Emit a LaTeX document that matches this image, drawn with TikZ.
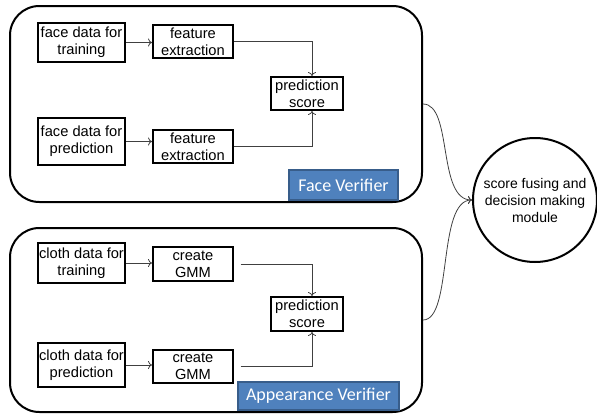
\documentclass[tikz,border=0pt]{standalone}
\usepackage{fontspec}
\usetikzlibrary{arrows.meta}
\setmainfont{Liberation Sans}
\newfontfamily\labfont{Carlito}
\definecolor{tagfill}{RGB}{79,129,189}
\definecolor{tagline}{RGB}{56,93,138}
\begin{document}
\begin{tikzpicture}[x=0.75pt,y=-0.75pt,
  box/.style={draw, line width=1.5pt, align=center, inner sep=1pt,
    font=\fontsize{11}{12.5}\selectfont},
  outer/.style={draw, line width=1.5pt, rounded corners=22pt},
  tag/.style={fill=tagfill, draw=tagline,
    line width=0.8pt, text=white, font=\labfont\fontsize{13.5}{15}\selectfont, inner sep=2pt},
  conn/.style={draw=black!75, line width=0.6pt, -{To[length=3pt,width=6pt]}}
]
\useasboundingbox (0,0) rectangle (597,414);
% outer boxes
\node[outer, minimum width=309pt, minimum height=147pt] (top) at (216,104) {};
\node[outer, minimum width=309pt, minimum height=138pt] (bot) at (216,320) {};
% face verifier
\node[box, minimum width=65.25pt, minimum height=29.25pt] (ft) at (81.5,42.5) {face data for\\training};
\node[box, minimum width=60pt, minimum height=24.75pt] (fe1) at (193,41.5) {feature\\extraction};
\node[box, minimum width=54pt, minimum height=24.75pt] (ps1) at (307,93.5) {prediction\\score};
\node[box, minimum width=65.25pt, minimum height=35.25pt] (fp) at (81.5,141.5) {face data for\\prediction};
\node[box, minimum width=60pt, minimum height=24.75pt] (fe2) at (193,146.5) {feature\\extraction};
\node[tag, minimum width=81.75pt, minimum height=22.5pt] (fv) at (343.5,185) {Face Verifier};
% appearance verifier
\node[box, minimum width=65.25pt, minimum height=30pt] (ct) at (81.5,263) {cloth data for\\training};
\node[box, minimum width=60pt, minimum height=25.5pt] (g1) at (193,264) {create\\GMM};
\node[box, minimum width=54pt, minimum height=25.5pt] (ps2) at (307,314) {prediction\\score};
\node[box, minimum width=65.25pt, minimum height=33pt] (cp) at (81.5,365) {cloth data for\\prediction};
\node[box, minimum width=60pt, minimum height=24.75pt] (g2) at (193,366.5) {create\\GMM};
\node[tag, minimum width=120.75pt, minimum height=21pt] (av) at (318.5,396) {Appearance Verifier};
% circle
\node[draw, circle, line width=1.5pt, minimum size=93pt, align=center, inner sep=0pt,
  font=\fontsize{10.5}{12.75}\selectfont] (sf) at (535,200) {score fusing and\\decision making\\module};
% connectors
\coordinate (p1) at ([xshift=3.75pt]ps1.north);
\coordinate (p2) at ([xshift=3.75pt]ps1.south);
\coordinate (q1) at ([xshift=3.75pt]ps2.north);
\coordinate (q2) at ([xshift=3.75pt]ps2.south);
\draw[conn] (ft.east) -- (ft.east -| fe1.west);
\draw[conn] (fp.east) -- (fp.east -| fe2.west);
\draw[conn] (fe1.east) -| (p1);
\draw[conn] (fe2.east) -| (p2);
\draw[conn] (ct.east) -- (ct.east -| g1.west);
\draw[conn] (cp.east) -- (cp.east -| g2.west);
\draw[conn, shorten <=5pt] (g1.east) -| (q1);
\draw[conn, shorten <=5pt] (g2.east) -| (q2);
\draw[conn] (top.east) .. controls +(30,0) and +(-35,0) .. (sf.west);
\draw[conn] (bot.east) .. controls +(30,0) and +(-35,0) .. (sf.west);
\end{tikzpicture}
\end{document}
